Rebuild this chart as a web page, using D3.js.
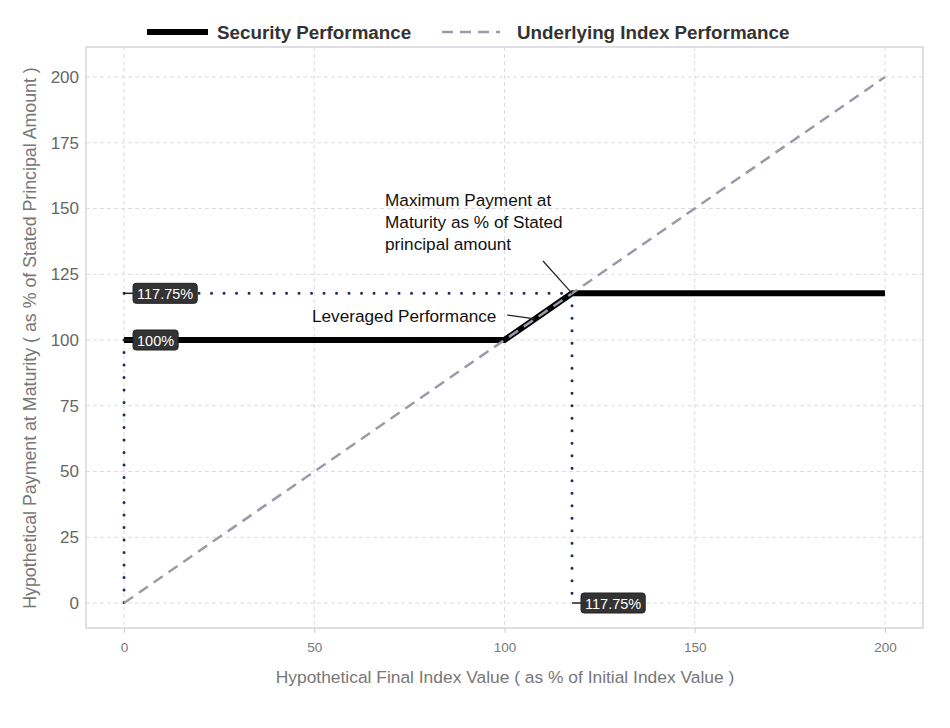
<!DOCTYPE html>
<html><head><meta charset="utf-8">
<script src="https://cdn.jsdelivr.net/npm/d3@7"></script>
<style>body{margin:0;background:#fff;}svg{display:block;font-family:"Liberation Sans",Arial,sans-serif;}</style>
</head><body><svg id="c" width="950" height="728"></svg>
<script>
const securityX = [0, 100, 117.75, 200];
const securityY = [100, 100, 117.75, 117.75];
const indexX = [0, 200];
const indexY = [0, 200];
const xTicks = [0, 50, 100, 150, 200];
const yTicks = [0, 25, 50, 75, 100, 125, 150, 175, 200];
const capLevel = 117.75;
const floorLevel = 100;

const svg = d3.select("#c");
const x = d3.scaleLinear().domain([-10, 210]).range([86, 923]);
const y = d3.scaleLinear().domain([0, 200]).range([603, 77]);
const pTop = 47, pBottom = 628;

// panel
svg.append("rect").attr("x",86).attr("y",pTop).attr("width",837).attr("height",pBottom-pTop)
  .attr("fill","#fff").attr("stroke","#c9ccd6").attr("stroke-width",1.2);

// grid
svg.append("g").selectAll("line").data(xTicks).join("line")
  .attr("x1",d=>x(d)).attr("x2",d=>x(d)).attr("y1",pTop).attr("y2",pBottom)
  .attr("stroke","#dcdce2").attr("stroke-dasharray","4,3");
svg.append("g").selectAll("line").data(yTicks).join("line")
  .attr("x1",86).attr("x2",923).attr("y1",d=>y(d)).attr("y2",d=>y(d))
  .attr("stroke","#dcdce2").attr("stroke-dasharray","4,3");

// axes
const xa = svg.append("g").attr("transform",`translate(0,${pBottom})`)
  .call(d3.axisBottom(x).tickValues(xTicks).tickSize(5).tickPadding(9));
xa.select(".domain").remove();
xa.selectAll("line").attr("stroke","#c9ccd6");
xa.selectAll("text").attr("fill","#777").style("font-size","13.5px").style("font-family","Liberation Sans, Arial, sans-serif");
const ya = svg.append("g").attr("transform",`translate(86,0)`)
  .call(d3.axisLeft(y).tickValues(yTicks).tickSize(0).tickPadding(7));
ya.select(".domain").remove();
ya.selectAll("text").attr("fill","#666").style("font-size","17px").style("font-family","Liberation Sans, Arial, sans-serif");

svg.append("text").attr("x",505).attr("y",683).attr("text-anchor","middle")
  .attr("fill","#777").style("font-size","17.4px")
  .text("Hypothetical Final Index Value ( as % of Initial Index Value )");
svg.append("text").attr("transform","translate(36,338) rotate(-90)").attr("text-anchor","middle")
  .attr("fill","#777").style("font-size","17.8px")
  .text("Hypothetical Payment at Maturity ( as % of Stated Principal Amount )");

const line = d3.line().x(d=>x(d[0])).y(d=>y(d[1]));
const navy = "#1d2b5e";
// dotted reference lines
const dotted = [
  [[0,capLevel],[capLevel,capLevel]],
  [[capLevel,capLevel],[capLevel,0]],
  [[0,floorLevel],[0,0]]
];
svg.append("g").selectAll("path").data(dotted).join("path")
  .attr("d",line).attr("fill","none").attr("stroke",navy).attr("stroke-width",3)
  .attr("stroke-linecap","round").attr("stroke-dasharray","0,12.5");

// security line
svg.append("path").datum(securityX.map((v,i)=>[v,securityY[i]])).attr("d",line)
  .attr("fill","none").attr("stroke","#000").attr("stroke-width",6).attr("stroke-linejoin","round");
// index line
svg.append("path").datum(indexX.map((v,i)=>[v,indexY[i]])).attr("d",line)
  .attr("fill","none").attr("stroke","#9a9aa8").attr("stroke-width",2.5).attr("stroke-dasharray","11,7");

// labels
function tag(px,py,dx,txt){
  const g = svg.append("g");
  g.append("line").attr("x1",px).attr("x2",px+dx).attr("y1",py).attr("y2",py)
    .attr("stroke","#222").attr("stroke-width",1.5);
  const r = g.append("rect");
  const t = g.append("text").attr("x",px+dx+4).attr("y",py+5.5).attr("fill","#fff")
    .style("font-size","14.5px").text(txt);
  const w = t.node().getComputedTextLength();
  r.attr("x",px+dx).attr("y",py-10).attr("width",w+8).attr("height",20)
    .attr("rx",3).attr("fill","#333").attr("stroke","#222");
}
tag(x(0),y(capLevel),9,"117.75%");
tag(x(0),y(floorLevel),9,"100%");
tag(x(capLevel),y(0),9,"117.75%");

// annotations
svg.append("text").attr("x",312).attr("y",322).attr("fill","#111").style("font-size","17.2px").text("Leveraged Performance");
svg.append("line").attr("x1",507).attr("y1",315).attr("x2",x(108)).attr("y2",y(108)).attr("stroke","#222").attr("stroke-width",1.2);
const ann = ["Maximum Payment at","Maturity as % of Stated","principal amount"];
svg.append("g").selectAll("text").data(ann).join("text")
  .attr("x",385).attr("y",(d,i)=>206+i*22).attr("fill","#111").style("font-size","17.2px").text(d=>d);
svg.append("line").attr("x1",543).attr("y1",261).attr("x2",x(capLevel)).attr("y2",y(capLevel)).attr("stroke","#222").attr("stroke-width",1.2);

// legend
svg.append("line").attr("x1",147).attr("x2",208).attr("y1",32).attr("y2",32).attr("stroke","#000").attr("stroke-width",6);
svg.append("text").attr("x",217).attr("y",38.5).attr("fill","#333").style("font-size","18.8px").style("font-weight","bold").text("Security Performance");
svg.append("line").attr("x1",442).attr("x2",500).attr("y1",32).attr("y2",32).attr("stroke","#9a9aa8").attr("stroke-width",2.5).attr("stroke-dasharray","11,7");
svg.append("text").attr("x",517).attr("y",38.5).attr("fill","#333").style("font-size","18.8px").style("font-weight","bold").text("Underlying Index Performance");
</script></body></html>
